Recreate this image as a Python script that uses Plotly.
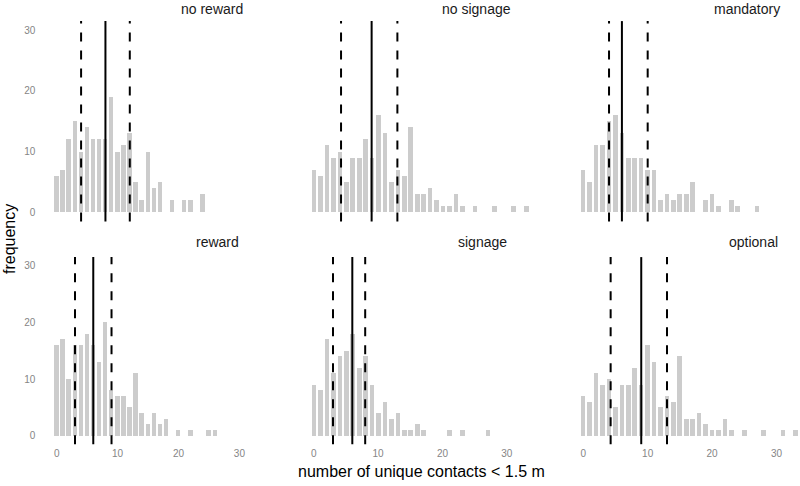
import plotly.graph_objects as go

# ---------------- data ----------------
no_reward = [6, 7, 12, 15, 10, 14, 12, 12, 12, 19, 10, 11, 13, 5, 2, 10, 4, 5, 0, 2, 0, 2, 2, 0, 3]
reward = [16, 17, 10, 16, 16, 18, 16, 13, 20, 8, 7, 7, 5, 11, 4, 2, 4, 2, 3, 0, 1, 0, 1, 0, 0, 1, 1]
no_signage = [7, 6, 11, 9, 10, 5, 9, 9, 12, 9, 16, 13, 5, 7, 6, 14, 3, 3, 4, 2, 1, 1, 3, 1, 0, 1, 0, 0, 1, 0, 0, 1, 0, 1]
signage = [9, 8, 17, 11, 14, 15, 18, 12, 14, 9, 4, 6, 3, 4, 1, 1, 2, 1, 0, 0, 0, 1, 0, 1, 0, 0, 0, 1]
mandatory = [7, 5, 11, 11, 15, 16, 13, 9, 9, 9, 7, 7, 2, 3, 2, 3, 3, 5, 0, 2, 3, 1, 0, 2, 1, 0, 0, 1]
optional = [7, 6, 11, 9, 10, 5, 9, 9, 12, 9, 16, 13, 5, 7, 6, 14, 3, 3, 4, 2, 1, 1, 3, 1, 0, 1, 0, 0, 1, 0, 0, 1, 0, 1]

# quantiles: (lower, median, upper)
q_no_reward = [4, 8, 12]
q_reward = [3, 6, 9]
q_no_signage = [4.25, 9, 13]
q_signage = [3, 6, 8]
q_mandatory = [4, 6, 10]
q_optional = [4.25, 9, 13]

panel_titles = ["no reward", "no signage", "mandatory", "reward", "signage", "optional"]
x_ticks = [0, 10, 20, 30]
y_ticks = [0, 10, 20, 30]

panels = [
    (no_reward, q_no_reward),
    (no_signage, q_no_signage),
    (mandatory, q_mandatory),
    (reward, q_reward),
    (signage, q_signage),
    (optional, q_optional),
]

# ---------------- layout geometry ----------------
W, H = 800, 486
col_px = [(40.3, 254.6), (299.5, 529.4), (569.1, 800.0)]
col_range = [(-2.7, 32.5), (-2.2, 33.5), (-2.2, 33.65)]
row_px = [(21.1, 221.4), (257.1, 444.2)]
title_right = [[245, 512.7, 781.7], [240.7, 508.7, 780.3]]
title_y = [9, 242]

BAR = "#CCCCCC"
FONT = "Liberation Sans, Arial, sans-serif"

fig = go.Figure()
layout = dict(
    width=W, height=H,
    margin=dict(l=0, r=0, t=0, b=0),
    paper_bgcolor="white", plot_bgcolor="white",
    showlegend=False,
    font=dict(family=FONT, color="#000000"),
    bargap=0.0,
)
shapes = []
annotations = []

for i, (counts, q) in enumerate(panels):
    r, c = divmod(i, 3)
    k = i + 1
    xa = "x" if k == 1 else f"x{k}"
    ya = "y" if k == 1 else f"y{k}"
    xs = list(range(len(counts)))
    fig.add_trace(go.Bar(
        x=xs, y=counts, width=0.72, marker=dict(color=BAR, line=dict(width=0)),
        xaxis=xa, yaxis=ya, hoverinfo="x+y",
    ))
    x0p, x1p = col_px[c]
    y0p, y1p = row_px[r]
    layout["xaxis" if k == 1 else f"xaxis{k}"] = dict(
        domain=[x0p / W, x1p / W], range=list(col_range[c]), anchor=ya,
        showgrid=False, zeroline=False, showline=False, ticks="",
        tickvals=x_ticks, showticklabels=(r == 1),
        tickfont=dict(size=10, color="#858585", family=FONT),
        ticklabelstandoff=2,
    )
    layout["yaxis" if k == 1 else f"yaxis{k}"] = dict(
        domain=[1 - y1p / H, 1 - y0p / H], range=[-1.5, 31.5], anchor=xa,
        showgrid=False, zeroline=False, showline=False, ticks="",
        tickvals=y_ticks, showticklabels=(c == 0),
        tickfont=dict(size=10, color="#858585", family=FONT),
        ticklabelstandoff=4,
    )
    for j, v in enumerate(q):
        shapes.append(dict(
            type="line", xref=xa, yref=f"{ya} domain",
            x0=v, x1=v, y0=0, y1=1,
            line=dict(color="black", width=2, dash="solid" if j == 1 else "dash"),
        ))
    annotations.append(dict(
        text=panel_titles[i], xref="paper", yref="paper",
        x=title_right[r][c] / W, y=1 - title_y[r] / H,
        xanchor="right", yanchor="middle", showarrow=False,
        font=dict(size=14, color="#1a1a1a", family=FONT),
    ))

annotations.append(dict(
    text="number of unique contacts < 1.5 m", xref="paper", yref="paper",
    x=421 / W, y=1 - 471 / H, xanchor="center", yanchor="middle", showarrow=False,
    font=dict(size=16, color="#000000", family=FONT),
))
annotations.append(dict(
    text="frequency", xref="paper", yref="paper",
    x=9 / W, y=1 - 239 / H, xanchor="center", yanchor="middle", showarrow=False,
    textangle=-90, font=dict(size=16, color="#000000", family=FONT),
))

layout["shapes"] = shapes
layout["annotations"] = annotations
fig.update_layout(**layout)
fig.write_html(
    "out.html",
    config={"displayModeBar": False},
    post_script="document.body.style.margin='0';document.body.style.overflow='hidden';",
)
